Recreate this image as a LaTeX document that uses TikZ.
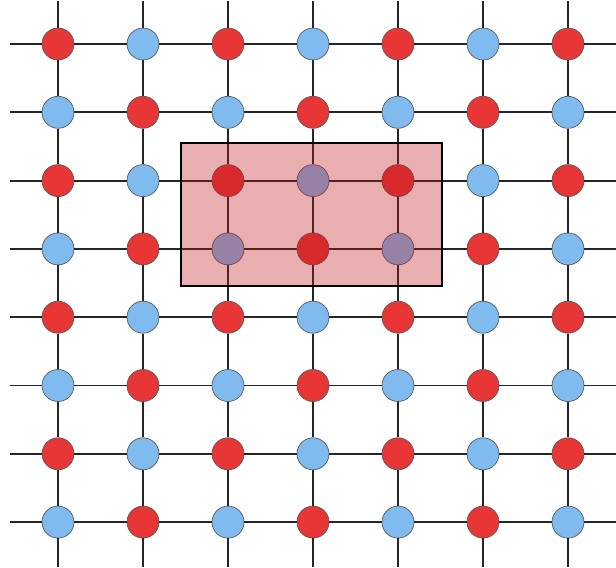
\documentclass[tikz,border=0pt]{standalone}
\usepackage{xcolor}
\usepackage{tikz}
\usetikzlibrary{positioning}
\definecolor{sitered}{HTML}{E83535}
\definecolor{siteblue}{HTML}{80BBF0}
\definecolor{cellred}{RGB}{189,24,29}

\begin{document}
\begin{tikzpicture}[
  x=0.02cm, y=-0.02cm,
  site/.style={
    circle, draw=black!65, line width=0.4pt, minimum size=0.64cm,
    inner sep=0pt
  },
  redsite/.style={site, fill=sitered},
  bluesite/.style={site, fill=siteblue},
  bond/.style={line width=1.1pt, black!85},
  cell/.style={draw=black, line width=1.1pt, fill=cellred, fill opacity=0.35}
]
\useasboundingbox (0,0) rectangle (616,568);

% lattice sites
\foreach \i in {1,...,8}
  \foreach \j in {1,...,7} {
    \pgfmathtruncatemacro{\sitekind}{mod(\i+\j,2)}
    \ifnum\sitekind=0 \def\sitestyle{redsite}\else\def\sitestyle{bluesite}\fi
    \node[\sitestyle] (n-\i-\j) at ({58+85*(\j-1)}, {44+68.3*(\i-1)}) {};
  }

% free ends of the bonds
\foreach \i in {1,...,8} {
  \coordinate (w-\i) at (10, {44+68.3*(\i-1)});
  \coordinate (e-\i) at (616, {44+68.3*(\i-1)});
}
\foreach \j in {1,...,7} {
  \coordinate (t-\j) at ({58+85*(\j-1)}, 1);
  \coordinate (b-\j) at ({58+85*(\j-1)}, 567);
}

% bonds
\foreach \i in {1,...,8} {
  \draw[bond] (w-\i) -- (n-\i-1);
  \draw[bond] (n-\i-7) -- (e-\i);
  \foreach \j [evaluate=\j as \k using int(\j+1)] in {1,...,6}
    \draw[bond] (n-\i-\j) -- (n-\i-\k);
}
\foreach \j in {1,...,7} {
  \draw[bond] (t-\j) -- (n-1-\j);
  \draw[bond] (n-8-\j) -- (b-\j);
  \foreach \i [evaluate=\i as \k using int(\i+1)] in {1,...,7}
    \draw[bond] (n-\i-\j) -- (n-\k-\j);
}

% unit cell
\draw[cell] (181,143) rectangle (442,286);

\end{tikzpicture}
\end{document}
